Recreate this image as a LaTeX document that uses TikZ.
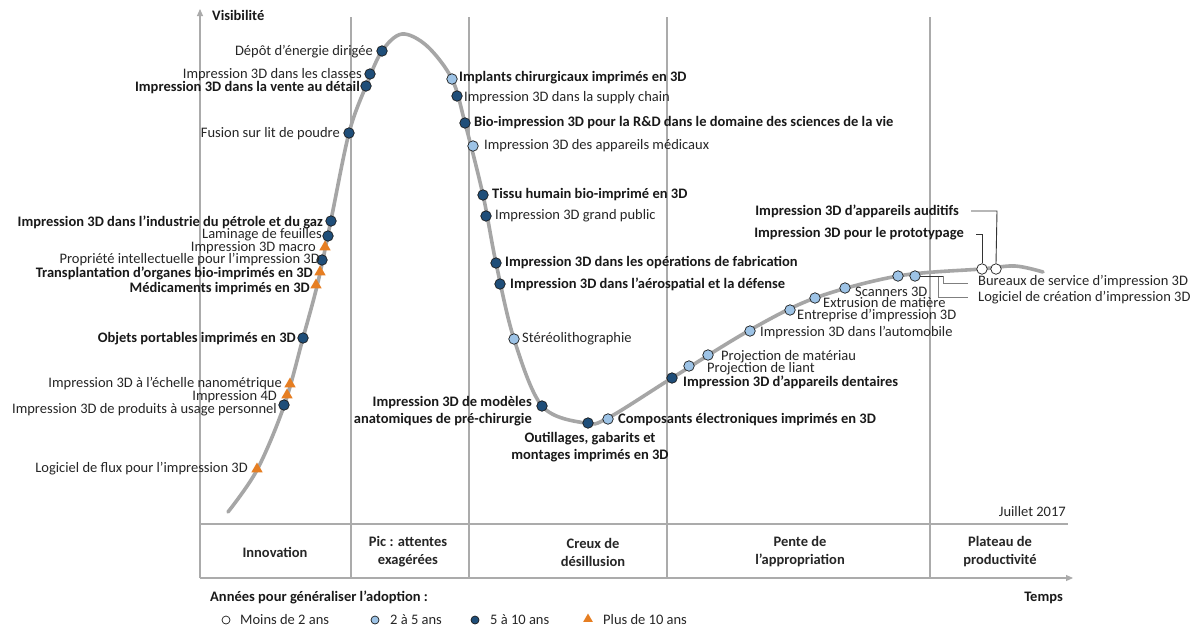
\documentclass[tikz,border=0pt]{standalone}
\usepackage{fontspec}
\setmainfont{Carlito}
\usetikzlibrary{shapes.geometric,arrows.meta}
\definecolor{curvegray}{HTML}{A6A6A6}
\definecolor{linegray}{HTML}{ABABAB}
\definecolor{dkblue}{HTML}{1F4E79}
\definecolor{ltblue}{HTML}{9DC3E6}
\definecolor{orangetri}{HTML}{E67E22}
\definecolor{dotline}{HTML}{1A1A1A}
\definecolor{leadgray}{HTML}{7F7F7F}
\tikzset{
  curve/.style={line width=3.6pt, draw=curvegray, line cap=round},
  vline/.style={line width=1.1pt, draw=linegray},
  axis/.style={line width=1.1pt, draw=linegray, -{Triangle[length=7pt,width=6pt]}},
  dotbase/.style={circle, draw=dotline, line width=0.7pt, inner sep=0pt, minimum size=10.5pt},
  dk/.style={dotbase, fill=dkblue},
  lt/.style={dotbase, fill=ltblue},
  wh/.style={dotbase, fill=white},
  tri/.style={regular polygon, regular polygon sides=3, fill=orangetri, inner sep=0pt, minimum size=13pt},
  ldk/.style={dk, minimum size=8pt},
  llt/.style={lt, minimum size=8pt},
  lwh/.style={wh, minimum size=8pt},
  ltri/.style={tri, minimum size=11pt},
  lbl/.style={font=\fontsize{14.5}{17}\selectfont, inner sep=0pt, text=black!85},
  lblb/.style={font=\fontsize{14.5}{17}\selectfont\bfseries, inner sep=0pt, text=black!90},
  phase/.style={font=\fontsize{14.5}{18}\selectfont\bfseries, inner sep=0pt, align=center, text=black!85},
  leader/.style={line width=0.8pt, draw=leadgray},
  leaderdk/.style={line width=0.9pt, draw=black!80}
}
\begin{document}
\begin{tikzpicture}[x=1pt,y=-1pt]
\useasboundingbox[fill=white] (0,0) rectangle (1199,630);

% grid lines
\foreach \xx in {351,469,667,930} \draw[vline] (\xx,17) -- (\xx,578);
\draw[vline] (200,524) -- (1068,524);
\draw[axis] (200,578) -- (200,9);
\draw[axis] (200,578) -- (1073,578);

\node[lblb, anchor=west] (vis) at (212,15) {Visibilité};
\node[lblb, anchor=east] (temps) at (1063,598) {Temps};
\node[lbl, anchor=east] (date) at (1066,512) {Juillet 2017};

% curve
\draw[curve] plot[smooth, tension=0.55] coordinates {(228,512) (257,470) (284,406) (303,338) (318,282) (331,220) (349,133) (366,86) (382,51) (402,34) (427,46) (452,79) (465,123) (483,195) (496,263) (514,339) (542,406) (585,423) (608,418) (672,378) (750,330) (815,298) (898,276) (981,269) (1015,266) (1043,272)};

% leaders
\coordinate (bA) at (943,276);
\coordinate (bB) at (943,283);
\coordinate (bC) at (968,283);
\coordinate (cA) at (938,277);
\coordinate (cB) at (938,297);
\coordinate (cC) at (968,297);
\draw[leaderdk] (915,276) -- (bA);
\draw[leader] (bA) -- (bB) -- (bC);
\draw[leader] (cA) -- (cB) -- (cC);
\coordinate (aA) at (971,211);
\coordinate (aB) at (997,211);
\coordinate (pA) at (976,234);
\coordinate (pB) at (982,234);

% markers (left side)
\node[dk] (m1) at (382,51) {};
\node[dk] (m2) at (370,74) {};
\node[dk] (m3) at (366,86) {};
\node[dk] (m4) at (349,133) {};
\node[dk] (m5) at (331,221) {};
\node[dk] (m6) at (328,236) {};
\node[tri] (m7) at (325,247) {};
\node[dk] (m8) at (322,260) {};
\node[tri] (m9) at (320,272) {};
\node[tri] (m10) at (316,285) {};
\node[dk] (m11) at (303,338) {};
\node[tri] (m12) at (290,384) {};
\node[tri] (m13) at (287,395) {};
\node[dk] (m14) at (284,405) {};
\node[tri] (m15) at (257,469) {};
% right of peak
\node[lt] (m16) at (452,79) {};
\node[dk] (m17) at (457,96) {};
\node[dk] (m18) at (465,123) {};
\node[lt] (m19) at (473,146) {};
\node[dk] (m20) at (483,195) {};
\node[dk] (m21) at (486,216) {};
\node[dk] (m22) at (496,263) {};
\node[dk] (m23) at (500,284) {};
\node[lt] (m24) at (514,339) {};
\node[dk] (m25) at (542,406) {};
\node[dk] (m26) at (588,423) {};
\node[lt] (m27) at (608,419) {};
\node[dk] (m28) at (672,378) {};
\node[lt] (m29) at (689,366) {};
\node[lt] (m30) at (708,355) {};
\node[lt] (m31) at (750,331) {};
\node[lt] (m32) at (790,310) {};
\node[lt] (m33) at (815,298) {};
\node[lt] (m34) at (845,288) {};
\node[lt] (m35) at (898,276) {};
\node[lt] (m36) at (915,276) {};
\node[wh] (m37) at (982,269) {};
\node[wh] (m38) at (996,269) {};

\draw[leaderdk] (aA) -- (aB) -- (m38.north);
\draw[leaderdk] (pA) -- (pB) -- (m37.north);

% labels left
\node[lbl, anchor=east] (t1) at (373,52) {Dépôt d’énergie dirigée};
\node[lbl, anchor=east] (t2) at (362,75) {Impression 3D dans les classes};
\node[lblb, anchor=east] (t3) at (360,88) {Impression 3D dans la vente au détail};
\node[lbl, anchor=east] (t4) at (340,134) {Fusion sur lit de poudre};
\node[lblb, anchor=east] (t5) at (323,222) {Impression 3D dans l’industrie du pétrole et du gaz};
\node[lbl, anchor=east] (t6) at (322,235) {Laminage de feuilles};
\node[lbl, anchor=east] (t7) at (316,248) {Impression 3D macro};
\node[lbl, anchor=east] (t8) at (320,260) {Propriété intellectuelle pour l’impression 3D};
\node[lblb, anchor=east] (t9) at (313,273) {Transplantation d’organes bio-imprimés en 3D};
\node[lblb, anchor=east] (t10) at (310,289) {Médicaments imprimés en 3D};
\node[lblb, anchor=east] (t11) at (296,339) {Objets portables imprimés en 3D};
\node[lbl, anchor=east] (t12) at (282,384) {Impression 3D à l’échelle nanométrique};
\node[lbl, anchor=east] (t13) at (277,397) {Impression 4D};
\node[lbl, anchor=east] (t14) at (277,410) {Impression 3D de produits à usage personnel};
\node[lbl, anchor=east] (t15) at (248,469) {Logiciel de flux pour l’impression 3D};
% labels right
\node[lblb, anchor=west] (t16) at (459,78) {Implants chirurgicaux imprimés en 3D};
\node[lbl, anchor=west] (t17) at (464,98) {Impression 3D dans la supply chain};
\node[lblb, anchor=west] (t18) at (474,123) {Bio-impression 3D pour la R\&D dans le domaine des sciences de la vie};
\node[lbl, anchor=west] (t19) at (484,146) {Impression 3D des appareils médicaux};
\node[lblb, anchor=west] (t20) at (492,195) {Tissu humain bio-imprimé en 3D};
\node[lbl, anchor=west] (t21) at (495,216) {Impression 3D grand public};
\node[lblb, anchor=west] (t22) at (505,263) {Impression 3D dans les opérations de fabrication};
\node[lblb, anchor=west] (t23) at (510,284) {Impression 3D dans l’aérospatial et la défense};
\node[lbl, anchor=west] (t24) at (522,339) {Stéréolithographie};
\node[lblb, anchor=east, align=right] (t25) at (532,411) {Impression 3D de modèles\\anatomiques de pré-chirurgie};
\node[lblb, align=center] (t26) at (590,447) {Outillages, gabarits et\\montages imprimés en 3D};
\node[lblb, anchor=west] (t27) at (618,420) {Composants électroniques imprimés en 3D};
\node[lblb, anchor=west] (t28) at (683,382) {Impression 3D d’appareils dentaires};
\node[lbl, anchor=west] (t29) at (707,369) {Projection de liant};
\node[lbl, anchor=west] (t30) at (721,357) {Projection de matériau};
\node[lbl, anchor=west] (t31) at (760,333) {Impression 3D dans l’automobile};
\node[lbl, anchor=west] (t32) at (797,316) {Entreprise d’impression 3D};
\node[lbl, anchor=west] (t33) at (823,303) {Extrusion de matière};
\node[lbl, anchor=west] (t34) at (855,292) {Scanners 3D};
\node[lbl, anchor=west] (t35) at (978,282) {Bureaux de service d’impression 3D};
\node[lbl, anchor=west] (t36) at (978,298) {Logiciel de création d’impression 3D};
\node[lblb, anchor=east] (t37) at (964,234) {Impression 3D pour le prototypage};
\node[lblb, anchor=east] (t38) at (959,211) {Impression 3D d’appareils auditifs};

% phases
\node[phase] (p1) at (275,552) {Innovation};
\node[phase] (p2) at (408,552) {Pic : attentes\\exagérées};
\node[phase] (p3) at (593,552) {Creux de\\désillusion};
\node[phase] (p4) at (800,552) {Pente de\\l’appropriation};
\node[phase] (p5) at (1000,552) {Plateau de\\productivité};

% legend
\node[lblb, anchor=west] (lgt) at (210,597) {Années pour généraliser l’adoption :};
\node[lwh] (g1) at (226,620) {};
\node[lbl, anchor=west] (g1t) at (240,620) {Moins de 2 ans};
\node[llt] (g2) at (375,620) {};
\node[lbl, anchor=west] (g2t) at (390,620) {2 à 5 ans};
\node[ldk] (g3) at (475,620) {};
\node[lbl, anchor=west] (g3t) at (490,620) {5 à 10 ans};
\node[ltri] (g4) at (588,619) {};
\node[lbl, anchor=west] (g4t) at (603,620) {Plus de 10 ans};
\end{tikzpicture}
\end{document}
